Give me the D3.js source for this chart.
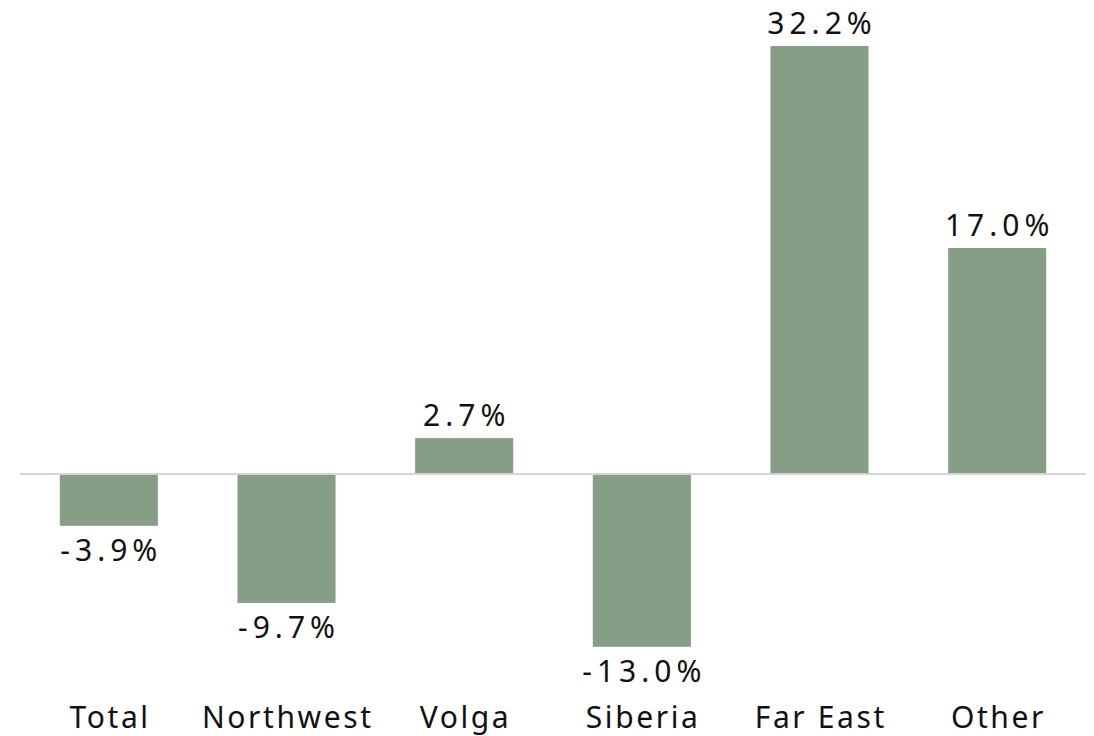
<!DOCTYPE html>
<html><head><meta charset="utf-8">
<script src="https://cdn.jsdelivr.net/npm/d3@7"></script>
<style>body{margin:0;background:#fff}svg{display:block}</style>
</head><body>
<svg id="c" width="1094" height="736"></svg>
<script>
const categories = ["Total","Northwest","Volga","Siberia","Far East","Other"];
const values = [-3.9, -9.7, 2.7, -13.0, 32.2, 17.0];
const valueLabels = ["-3.9%","-9.7%","2.7%","-13.0%","32.2%","17.0%"];

const svg = d3.select("#c");
const x = d3.scaleBand().domain(categories).range([20,1086]).paddingInner(0.448).paddingOuter(0.224);
const y = d3.scaleLinear().domain([0,32.2]).range([474,46]);
const font = "'Noto Sans', 'Open Sans', sans-serif";
const color = "#869e86";
const lsV = 5, lsC = 2.6;

svg.selectAll("rect.bar").data(values).join("rect")
  .attr("class","bar")
  .attr("x",(d,i)=>x(categories[i]))
  .attr("width",x.bandwidth())
  .attr("y",d=>Math.min(y(d),y(0)))
  .attr("height",d=>Math.abs(y(d)-y(0)))
  .attr("fill",color);

svg.append("line").attr("x1",20).attr("x2",1086).attr("y1",y(0)).attr("y2",y(0))
  .attr("stroke","#d4d4d4").attr("stroke-width",2);

svg.selectAll("text.val").data(values).join("text")
  .attr("class","val")
  .attr("x",(d,i)=>x(categories[i])+x.bandwidth()/2+lsV/2)
  .attr("y",d=> d>=0 ? y(d)-12 : y(d)+35)
  .attr("text-anchor","middle")
  .attr("font-family",font).attr("font-size",30).attr("letter-spacing",lsV+"px")
  .attr("fill","#111")
  .text((d,i)=>valueLabels[i]);

svg.selectAll("text.cat").data(categories).join("text")
  .attr("class","cat")
  .attr("x",d=>x(d)+x.bandwidth()/2+lsC/2)
  .attr("y",728)
  .attr("text-anchor","middle")
  .attr("font-family",font).attr("font-size",30).attr("letter-spacing",lsC+"px")
  .attr("fill","#111")
  .text(d=>d);
</script>
</body></html>
